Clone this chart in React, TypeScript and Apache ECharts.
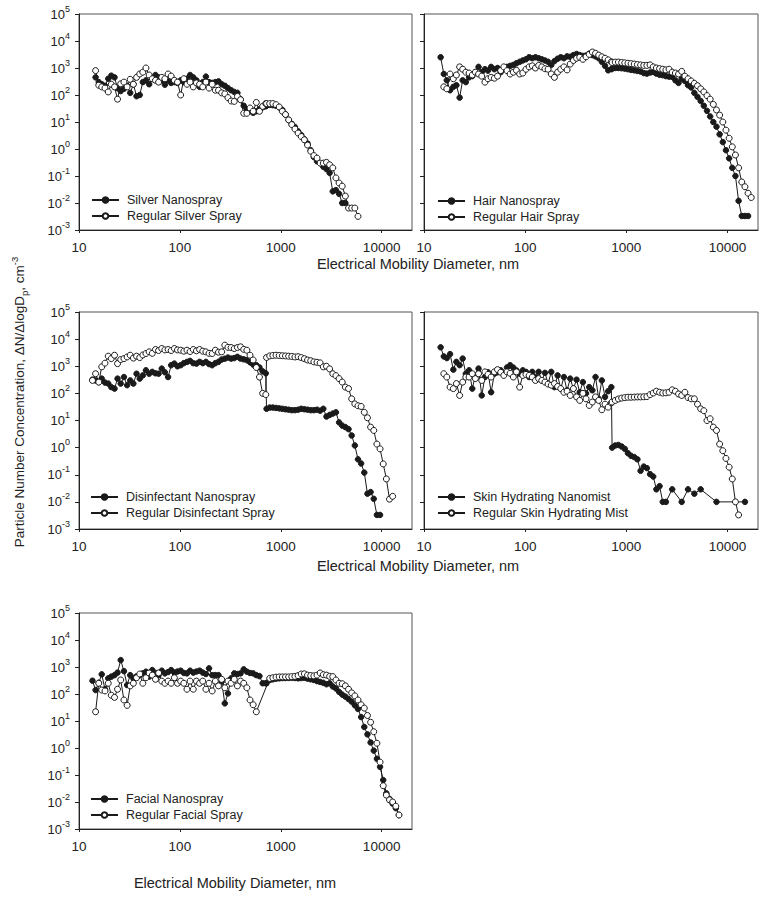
import React, { useEffect, useRef } from 'react';
import * as echarts from 'echarts';

// SMPS channel diameters (nm)
const SMPS_D = [
  13.6, 14.6, 15.7, 16.8, 18.1, 19.5, 20.9, 22.5,
  24.1, 25.9, 27.9, 30.0, 32.2, 34.6, 37.2, 40.0,
  42.9, 46.1, 49.6, 53.3, 57.3, 61.5, 66.1, 71.0,
  76.4, 82.0, 88.2, 94.7, 101.8, 109.4, 117.6, 126.3,
  135.8, 145.9, 156.8, 168.5, 181.1, 194.6, 209.1, 224.7,
  241.4, 259.5, 278.8, 299.6, 322.0, 346.0, 371.8, 399.5,
  429.4, 461.4, 495.8, 532.8, 572.5, 615.3, 661.2, 710.5,
];
// APS channel diameters (nm)
const APS_D = [
  723, 777, 835, 898, 965, 1037, 1114, 1197,
  1286, 1382, 1486, 1596, 1715, 1843, 1981, 2129,
  2288, 2458, 2642, 2839, 3051, 3278, 3523, 3786,
  4068, 4371, 4698, 5048, 5425, 5829, 6264, 6732,
  7234, 7774, 8354, 8977, 9647, 10370, 11140, 11970,
  12860, 13820, 14860, 15960, 17150, 18430,
];

const X_TICKS = [10, 100, 1000, 10000];
const Y_TICKS = [0.001, 0.01, 0.1, 1, 10, 100, 1000, 10000, 100000];

// ---- Silver
const silverNanoSmps = [
  null, 450, 300, 250, 220, 400, 520, 450,
  180, 140, 170, 220, 120, 250, 90, 100,
  300, 350, 250, 400, 550, 450, 350, 240,
  350, 280, 300, 280, 350, 300, 400, 550,
  450, 350, 200, 300, 480, 300, 280, 300,
  320, 250, 220, 180, 150, 130, 120, 70,
  40, 30, 25, 22, 25, 30, 35, 38,
];
const silverNanoAps = [
  40, 43, 42, 40, 35, 28, 19, 12,
  8.5, 6.5, 4.5, 3.3, 2.3, 1.6, 0.9, 0.5,
  0.35, 0.3, 0.22, 0.18, 0.13, 0.027, 0.03, 0.022,
  0.01, 0.01,
];
const silverRegSmps = [
  null, 800, 230, 200, 180, 130, 250, 200,
  70, 260, 300, 200, 380, 250, 450, 600,
  700, 1000, 550, 400, 350, 300, 450, 400,
  600, 500, 350, 300, 100, 400, 250, 300,
  200, 280, 250, 200, 300, 180, 250, 150,
  150, 120, 110, 80, 60, 58, 89, 67,
  21, 21, 33, 25, 53, 25, 38, 48,
];
const silverRegAps = [
  48, 48, 48, 44, 36, 25, 19, 12,
  8, 5.5, 3.9, 2.9, 2.2, 1.4, 0.83, 0.57,
  0.46, 0.3, 0.3, 0.32, 0.26, 0.2, 0.085, 0.055,
  0.042, 0.018, 0.0065, 0.0065, 0.0065, 0.0032,
];

// ---- Hair
const hairNanoSmps = [
  null, 2500, 600, 350, 150, 200, 230, 80,
  350, 300, 450, 500, 700, 1100, 700, 900,
  800, 1100, 900, 1000, 700, 900, 1100, 1200,
  1300, 1500, 1700, 1900, 2100, 2500, 2300, 2500,
  2300, 2100, 1900, 1700, 1300, 1800, 2200, 2500,
  2300, 2700, 2600, 3000, 3300, 3000, 2800, 2900,
  3400, 3000, 2700, 2300, 1700, 1200, 820, 900,
];
const hairNanoAps = [
  950, 1000, 1000, 980, 950, 900, 850, 820,
  780, 740, 650, 620, 680, 710, 620, 560,
  540, 500, 480, 470, 350, 280, 400, 330,
  230, 190, 120, 85, 60, 40, 26, 16,
  10, 6.7, 3.5, 1.8, 0.9, 0.45, 0.2, 0.1,
  0.012, 0.0033, 0.0033, 0.0033,
];
const hairRegSmps = [
  null, null, 200, 170, 600, 400, 550, 1100,
  900, 700, 650, 550, 700, 600, 500, 300,
  400, 450, 420, 500, 800, 1100, 800, 600,
  700, 820, 600, 650, 900, 1100, 1200, 1000,
  1250, 1100, 940, 900, 600, 450, 700, 900,
  1100, 850, 1400, 1900, 2300, 2500, 2100, 2600,
  3200, 3900, 3500, 3000, 2600, 2300, 2000, 1700,
];
const hairRegAps = [
  1600, 1650, 1660, 1600, 1550, 1500, 1450, 1400,
  1350, 1300, 1250, 1250, 1300, 1100, 1000, 950,
  900, 850, 900, 700, 650, 600, 750, 500,
  400, 330, 270, 220, 170, 130, 95, 70,
  45, 28, 18, 10, 5, 2.5, 1.2, 0.6,
  0.2, 0.06, 0.04, 0.023, 0.016,
];

// ---- Disinfectant
const disNanoSmps = [
  320, 300, 260, 350, 250, 230, 170, 150,
  350, 230, 400, 200, 300, 230, 530, 350,
  460, 710, 530, 620, 550, 530, 820, 600,
  400, 1090, 1250, 1000, 1090, 1300, 1450, 1580,
  1300, 1250, 1450, 1300, 1450, 1200, 1090, 1300,
  1450, 1770, 1900, 2090, 1920, 2000, 2220, 1920,
  1800, 1670, 1400, 1150, 1100, 900, 650, 550,
];
const disNanoAps = [
  27, 30, 30, 29, 28, 27, 26, 25,
  24, 24, 25, 27, 26, 25, 24, 24,
  25, 23, 27, 14, 16, 18, 20, 8.5,
  6.5, 5.7, 4.8, 2.8, 1.2, 0.37, 0.26, 0.12,
  0.02, 0.023, 0.013, 0.0033, 0.0033,
];
const disRegSmps = [
  300, 530, 260, 950, 1300, 2350, 1920, 2550,
  1250, 1770, 1920, 2200, 2550, 2000, 2350, 2090,
  2600, 2950, 3400, 3000, 4140, 3800, 4500, 4000,
  4140, 3800, 4500, 4000, 3900, 3600, 3900, 3500,
  4140, 3700, 4140, 3600, 3400, 3000, 2950, 3900,
  3300, 3400, 6000, 5000, 4900, 4500, 4900, 5200,
  4200, 3900, 2550, 1700, 900, 400, 100, 90,
];
const disRegAps = [
  2100, 2400, 2500, 2550, 2500, 2450, 2400, 2350,
  2300, 2200, 2250, 2090, 1900, 1700, 1600, 1450,
  1400, 1330, 950, 1000, 800, 530, 450, 350,
  260, 170, 150, 63, 41, 35, 33, 20,
  12.6, 5.7, 4.3, 1.35, 0.9, 0.25, 0.07, 0.0126,
  0.016,
];

// ---- Skin hydrating
const skinNanoSmps = [
  null, 5000, 2300, 2000, 2800, 750, 1450, 1100,
  1920, 530, 710, 150, 460, 820, 84, 400,
  600, 110, 530, 600, 710, 530, 900, 1090,
  890, 700, 530, 710, 620, 400, 620, 400,
  620, 300, 570, 230, 620, 170, 460, 150,
  400, 130, 350, 150, 320, 110, 260, 100,
  170, 130, 400, 63, 300, 74, 120, 170,
];
const skinNanoAps = [
  1.0, 1.2, 1.25, 1.1, 0.9, 0.62, 0.5, 0.45,
  0.37, 0.14, 0.2, 0.175, 0.105, 0.086, 0.029, 0.038,
  0.01, 0.01, null, 0.029, null, null, 0.01, null,
  0.029, null, 0.02, null, 0.029, null, null, null,
  null, 0.01, null, null, null, null, null, null,
  null, null, 0.01,
];
const skinRegSmps = [
  null, null, 530, 400, 170, 150, 230, 84,
  260, 400, 400, 530, 350, 530, 300, 620,
  500, 400, 620, 750, 600, 460, 620, 550,
  400, 620, 170, 460, 500, 460, 400, 300,
  350, 300, 260, 220, 200, 230, 180, 150,
  110, 120, 84, 150, 74, 55, 100, 63,
  36, 48, 74, 55, 25, 40, 31, 45,
];
const skinRegAps = [
  48, 55, 62, 67, 70, 72, 72, 73,
  74, 74, 75, 76, 90, 103, 120, 110,
  103, 105, 110, 135, 120, 95, 84, 110,
  70, 63, 63, 40, 27, 23, 10, 11.6,
  5.7, 4.3, 1.35, 0.77, 0.4, 0.19, 0.07, 0.01,
  0.0033,
];

// ---- Facial
const facialNanoSmps = [
  310, 140, 260, 535, 150, 380, 440, 500,
  620, 1800, 700, 215, 500, 380, 450, 500,
  580, 670, 440, 770, 600, 500, 730, 580,
  650, 770, 620, 680, 730, 600, 580, 730,
  620, 680, 730, 620, 550, 890, 500, 500,
  500, 290, 45, 105, 380, 580, 550, 580,
  820, 670, 600, 580, 500, 460, 250, 250,
];
const facialNanoAps = [
  250, 330, 350, 370, 380, 390, 390, 395,
  400, 390, 380, 390, 400, 370, 350, 330,
  300, 280, 260, 230, 250, 190, 160, 120,
  95, 80, 65, 52, 38, 28, 14, 6,
  3.2, 1.6, 0.8, 0.4, 0.2, 0.065, 0.021, 0.013,
  0.0087, 0.0059, 0.0033,
];
const facialRegSmps = [
  null, 22, 250, 140, 130, 250, 90, 75,
  150, 330, 60, 38, 200, 250, 400, 550,
  250, 400, 600, 500, 350, 600, 300, 250,
  300, 250, 400, 250, 300, 250, 150, 300,
  150, 300, 250, 300, 150, 250, 130, 300,
  200, 350, 170, 300, 250, 350, 200, 300,
  250, 170, 60, 40, 22,
];
const facialRegAps = [
  null, 380, 400, 420, 430, 430, 430, 430,
  440, 450, 480, 550, 560, 500, 480, 470,
  500, 600, 520, 500, 450, 440, 330, 250,
  240, 200, 150, 110, 85, 60, 40, 30,
  16, 9, 4, 1.5, 0.3, 0.04, 0.018, 0.012,
  0.01, 0.007, 0.0033,
];

const PANEL_NAMES = [
  ['Silver Nanospray', 'Regular Silver Spray'],
  ['Hair Nanospray', 'Regular Hair Spray'],
  ['Disinfectant Nanospray', 'Regular Disinfectant Spray'],
  ['Skin Hydrating Nanomist', 'Regular Skin Hydrating Mist'],
  ['Facial Nanospray', 'Regular Facial Spray'],
];
const PANEL_DATA = [
  [[silverNanoSmps, silverNanoAps], [silverRegSmps, silverRegAps]],
  [[hairNanoSmps, hairNanoAps], [hairRegSmps, hairRegAps]],
  [[disNanoSmps, disNanoAps], [disRegSmps, disRegAps]],
  [[skinNanoSmps, skinNanoAps], [skinRegSmps, skinRegAps]],
  [[facialNanoSmps, facialNanoAps], [facialRegSmps, facialRegAps]],
];

const X_TITLE = 'Electrical Mobility Diameter, nm';

function toPairs(smps: (number | null)[], aps: (number | null)[]) {
  const out: number[][] = [];
  smps.forEach((v, i) => {
    if (v != null && i < SMPS_D.length) out.push([SMPS_D[i], v]);
  });
  aps.forEach((v, i) => {
    if (v != null && i < APS_D.length) out.push([APS_D[i], v]);
  });
  return out;
}

const FONT = "'Liberation Sans', Arial, Helvetica, sans-serif";
const INK = '#1a1a1a';
const TXT = '#222';

const GRIDS = [
  { left: 79, top: 14, width: 333, height: 216 },
  { left: 424, top: 14, width: 334, height: 216 },
  { left: 79, top: 312, width: 333, height: 217 },
  { left: 424, top: 312, width: 334, height: 217 },
  { left: 79, top: 613, width: 333, height: 216 },
];
const LEGEND_POS = [
  { left: 91, top: 193 },
  { left: 437, top: 194 },
  { left: 90, top: 490 },
  { left: 437, top: 490 },
  { left: 90, top: 792 },
];
const SHOW_Y_LABELS = [true, false, true, false, true];

function buildOption() {
  const grid = GRIDS.map((g) => ({
    ...g,
    show: true,
    borderColor: '#555',
    borderWidth: 1,
    backgroundColor: 'transparent',
  }));
  const xAxis = GRIDS.map((_, i) => ({
    type: 'log',
    logBase: 10,
    gridIndex: i,
    min: 10,
    max: 20000,
    axisLine: { show: true, lineStyle: { color: '#222', width: 1 } },
    axisTick: { show: true, inside: false, length: 3, customValues: X_TICKS, lineStyle: { color: '#222' } },
    axisLabel: {
      show: true,
      customValues: X_TICKS,
      margin: 10,
      fontSize: 13.5,
      fontFamily: FONT,
      color: TXT,
      formatter: (v: number) => (X_TICKS.indexOf(Math.round(v)) >= 0 ? String(Math.round(v)) : ''),
    },
    splitLine: { show: false },
    minorTick: { show: false },
  }));
  const yAxis = GRIDS.map((_, i) => ({
    type: 'log',
    logBase: 10,
    gridIndex: i,
    min: 0.001,
    max: 100000,
    axisLine: { show: true, lineStyle: { color: '#222', width: 1 } },
    axisTick: { show: true, inside: false, length: 4, customValues: Y_TICKS, lineStyle: { color: '#222' } },
    axisLabel: {
      show: SHOW_Y_LABELS[i],
      customValues: Y_TICKS,
      margin: 9,
      formatter: (v: number) => {
        const e = Math.round(Math.log10(v));
        return `{b|10}{s|${e}}`;
      },
      rich: {
        b: { fontSize: 13, fontFamily: FONT, color: TXT, lineHeight: 20 },
        s: { fontSize: 9, fontFamily: FONT, color: TXT, lineHeight: 20, verticalAlign: 'top' },
      },
    },
    splitLine: { show: false },
  }));

  const series: any[] = [];
  PANEL_DATA.forEach((pd, i) => {
    pd.forEach((arrs, k) => {
      const filled = k === 0;
      series.push({
        type: 'line',
        name: PANEL_NAMES[i][k],
        xAxisIndex: i,
        yAxisIndex: i,
        data: toPairs(arrs[0], arrs[1]),
        symbol: 'circle',
        symbolSize: filled ? 5.5 : 6,
        showSymbol: true,
        showAllSymbol: true,
        lineStyle: { color: INK, width: 1 },
        itemStyle: { color: filled ? INK : '#fff', borderColor: INK, borderWidth: 1 },
        z: filled ? 2 : 3,
        emphasis: { disabled: true },
      });
    });
  });

  const legend = PANEL_NAMES.map((names, i) => ({
    data: names,
    left: LEGEND_POS[i].left,
    top: LEGEND_POS[i].top,
    orient: 'vertical',
    itemWidth: 27,
    itemHeight: 7,
    itemGap: 2,
    padding: 0,
    selectedMode: false,
    textStyle: { fontSize: 12.5, fontFamily: FONT, color: TXT, padding: [0, 0, 0, 3], lineHeight: 14 },
  }));

  const titleStyle = { fontSize: 14.5, fontFamily: FONT, fill: TXT };
  const graphic = [
    { type: 'text', x: 418, y: 264, style: { text: X_TITLE, ...titleStyle, align: 'center', verticalAlign: 'middle' } },
    { type: 'text', x: 418, y: 566, style: { text: X_TITLE, ...titleStyle, align: 'center', verticalAlign: 'middle' } },
    { type: 'text', x: 235, y: 883, style: { text: X_TITLE, ...titleStyle, align: 'center', verticalAlign: 'middle' } },
    {
      type: 'text',
      x: 19,
      y: 402,
      rotation: Math.PI / 2,
      style: {
        text: '{n|Particle Number Concentration, ΔN/ΔlogD}{sub|p}{n|, cm}{sup|-3}',
        align: 'center',
        verticalAlign: 'middle',
        rich: {
          n: { fontSize: 13.5, fontFamily: FONT, fill: TXT, color: TXT, lineHeight: 20 },
          sub: { fontSize: 9.5, fontFamily: FONT, fill: TXT, color: TXT, lineHeight: 18, verticalAlign: 'bottom' },
          sup: { fontSize: 9.5, fontFamily: FONT, fill: TXT, color: TXT, lineHeight: 20, verticalAlign: 'top' },
        },
      },
    },
  ];

  return {
    animation: false,
    backgroundColor: '#fff',
    grid,
    xAxis,
    yAxis,
    legend,
    series,
    graphic,
  };
}

export default function App() {
  const ref = useRef<HTMLDivElement>(null);
  useEffect(() => {
    if (!ref.current) return;
    const chart = echarts.init(ref.current, undefined, { renderer: 'svg' });
    chart.setOption(buildOption() as any);
    return () => chart.dispose();
  }, []);
  return (
    <div
      ref={ref}
      style={{ position: 'absolute', left: 0, top: 0, width: 768, height: 900, background: '#fff' }}
    />
  );
}
